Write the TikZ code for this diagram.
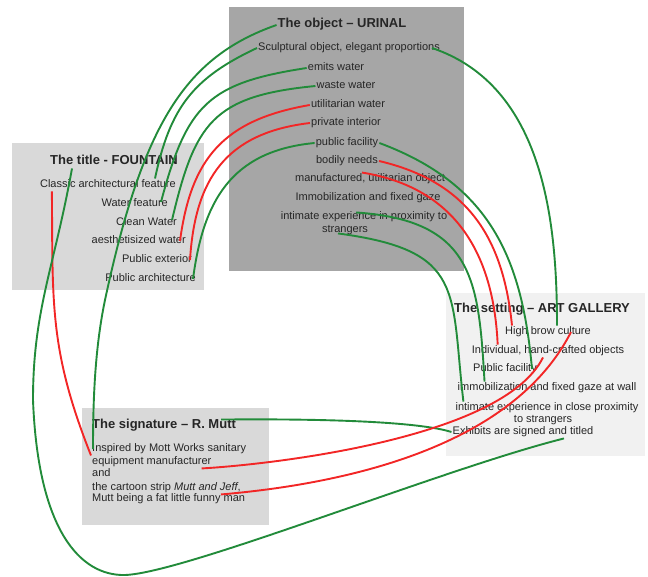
\documentclass[tikz,border=0pt]{standalone}
\usepackage{fontspec}
\setmainfont{Liberation Sans}

\definecolor{objgray}{RGB}{166,166,166}
\definecolor{boxgray}{RGB}{217,217,217}
\definecolor{palegray}{RGB}{241,241,241}
\definecolor{linkgreen}{RGB}{34,139,58}
\definecolor{linkred}{RGB}{242,38,38}

\begin{document}
\begin{tikzpicture}[x=1pt, y=-1pt,
  font=\fontsize{11}{13}\selectfont,
  panel/.style={
    rectangle,
    inner sep=0pt,
    anchor=north west
  },
  item/.style={
    inner sep=1pt,
    text height=8pt,
    text depth=2.5pt,
    text=black!85
  },
  head/.style={item, font=\fontsize{13}{15}\selectfont\bfseries},
  match/.style={draw=linkgreen, line width=1.9pt},
  clash/.style={draw=linkred, line width=1.9pt}
  ]
\useasboundingbox (0,0) rectangle (648,577);

% Boxes
\node[panel, fill=objgray, minimum width=235pt, minimum height=264pt] (urinal) at (229,7) {};
\node[panel, fill=boxgray, minimum width=192pt, minimum height=147pt] (fountain) at (12,143) {};
\node[panel, fill=palegray, minimum width=199pt, minimum height=163pt] (gallery) at (446,293) {};
\node[panel, fill=boxgray, minimum width=187pt, minimum height=117pt] (mutt) at (82,408) {};

% The object
\node[head] (otitle) at (342,25) {The object – URINAL};
\node[item] (sculpt) at (349,48) {Sculptural object, elegant proportions};
\node[item] (emits) at (336,68) {emits water};
\node[item] (waste) at (346,86) {waste water};
\node[item] (utilw) at (348,105) {utilitarian water};
\node[item] (privint) at (346,123) {private interior};
\node[item] (pubfac) at (347,143) {public facility};
\node[item] (bodily) at (347,161) {bodily needs};
\node[item] (manuf) at (370,179) {manufactured, utilitarian object};
\node[item] (immob) at (368,198) {Immobilization and fixed gaze};
\node[item] (intim) at (364,217) {intimate experience in proximity to};
\node[item] (intimb) at (345,230) {strangers};

% The title
\node[head] (ttitle) at (114,162) {The title - FOUNTAIN};
\node[item, anchor=east] (classic) at (177,185) {Classic architectural feature};
\node[item, anchor=east] (waterf) at (169,204) {Water feature};
\node[item, anchor=east] (clean) at (178,223) {Clean Water};
\node[item, anchor=east] (aesth) at (187,241) {aesthetisized water};
\node[item, anchor=east] (pubext) at (193,260) {Public exterior};
\node[item, anchor=east] (pubarch) at (197,279) {Public architecture};

% The setting
\node[head] (stitle) at (542,310) {The setting – ART GALLERY};
\node[item] (high) at (548,332) {High brow culture};
\node[item] (indiv) at (548,351) {Individual, hand-crafted objects};
\node[item] (spub) at (505,369) {Public facility};
\node[item] (simmob) at (547,388) {immobilization and fixed gaze at wall};
\node[item] (sintim) at (547,408) {intimate experience in close proximity};
\node[item] (sintimb) at (543,420) {to strangers};
\node[item] (exhib) at (523,432) {Exhibits are signed and titled};

% The signature
\node[head, anchor=west] (sigtitle) at (91,426) {The signature – R. Mutt};
\node[item, anchor=west] (sig1) at (91,449) {Inspired by Mott Works sanitary};
\node[item, anchor=west] (sig2) at (91,462) {equipment manufacturer};
\node[item, anchor=west] (sig3) at (91,474) {and};
\node[item, anchor=west] (sig4) at (91,488) {the cartoon strip \textit{Mutt and Jeff},};
\node[item, anchor=west] (sig5) at (91,499) {Mutt being a fat little funny man};

% Object to title
\draw[match] (sculpt.west) .. controls +(-64,30) and +(15,-71) .. ([xshift=-22pt]classic.north east);
\draw[match] (emits.west) .. controls +(-98,15) and +(26,-98) .. ([xshift=-8pt,yshift=2pt]waterf.east);
\draw[match] (waste.west) .. controls +(-103,10) and +(23,-97) .. ([xshift=-6pt,yshift=3pt]clean.east);
\draw[clash] (utilw.west) .. controls +(-87,15) and +(11,-82) .. ([xshift=-7pt]aesth.east);
\draw[clash] (privint.west) .. controls +(-85,10) and +(5,-80) .. ([xshift=-3pt]pubext.east);
\draw[match] (pubfac.west) .. controls +(-85,8) and +(10,-76) .. ([xshift=-4pt]pubarch.east);

% Object to setting
\draw[match] ([xshift=-9pt]sculpt.east) .. controls +(113,38) and +(0,-101) .. ([xshift=9pt]high.north);
\draw[match] (pubfac.east) .. controls +(110,41) and +(-10,-112) .. ([xshift=-6pt]spub.east);
\draw[clash] (bodily.east) .. controls +(89,21) and +(-9,-88) .. ([xshift=8pt]high.north west);
\draw[clash] ([xshift=-8pt]manuf.north) .. controls +(94,15) and +(-4,-90) .. ([xshift=27pt]indiv.north west);
\draw[match] ([shift={(-12pt,-8pt)}]immob.south) .. controls +(118,8) and +(-6,-101) .. ([xshift=28pt]simmob.north west);
\draw[match] ([xshift=-7pt,yshift=3pt]intimb.south) .. controls +(128,17) and +(-13,-111) .. ([xshift=9pt]sintim.north west);

% Signature links
\draw[match] (otitle.west) .. controls +(-91,32) and +(38,-177) .. (105,300)
  .. controls +(-10,48) and +(0,-50) .. ([xshift=2pt]sig1.west);
\draw[clash] ([xshift=13pt]classic.south west) .. controls +(1,112) and +(-42,-106) .. (sig1.south west);
\draw[match] ([xshift=-16pt]sigtitle.north east) .. controls +(110,-1) and +(-32,-10) .. (exhib.west);
\draw[clash] ([xshift=-11pt]sig2.south east) .. controls +(70,-4) and +(-40,81) .. ([xshift=-5pt]indiv.south);
\draw[clash] ([xshift=-21pt]sig4.south east) .. controls +(117,-10) and +(-60,118) .. ([xshift=23pt]high.center);

% Title to setting, round the bottom
\draw[match] ([xshift=-42pt]ttitle.south) .. controls +(-18,100) and +(0,-90) .. (33,400)
  .. controls +(5,130) and +(-45,1) .. (125,575)
  .. controls +(60,-2) and +(-120,30) .. ([xshift=41pt]exhib.south);

\end{tikzpicture}
\end{document}
